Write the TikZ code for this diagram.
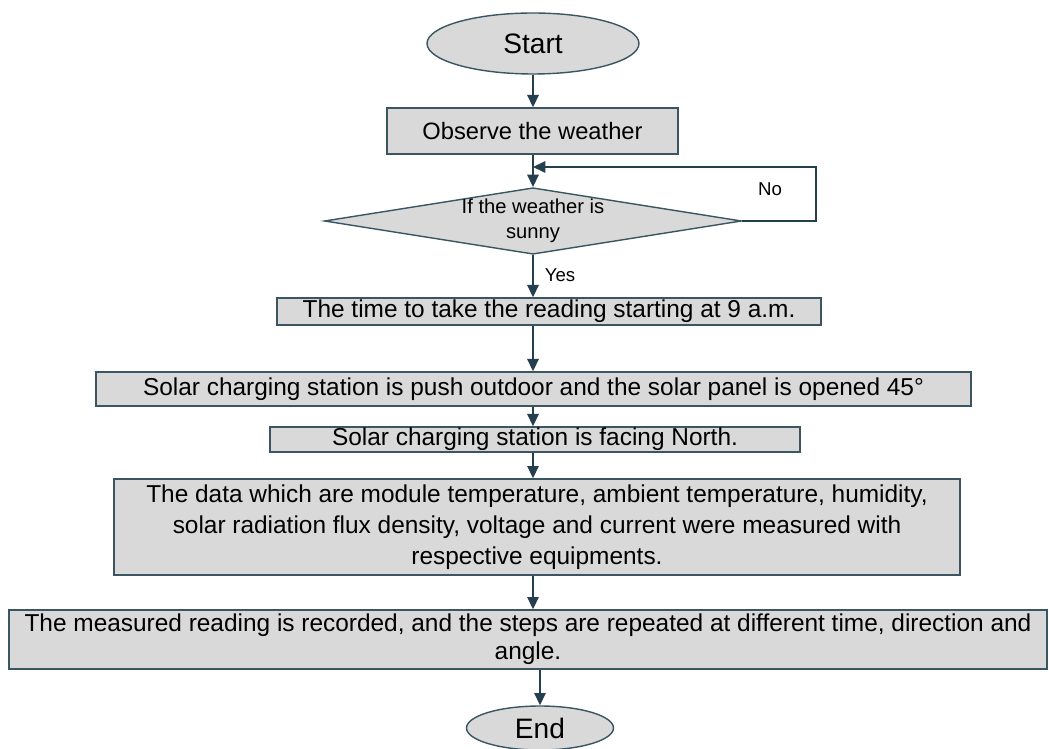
\documentclass[tikz,border=0pt]{standalone}
\usepackage{fontspec}
\setmainfont{Liberation Sans}
\usepackage{tikz}
\usetikzlibrary{positioning,shapes.geometric,arrows.meta}
\usepackage{xcolor}
\definecolor{boxgray}{HTML}{D9D9D9}
\definecolor{lineblue}{HTML}{3B5563}
\definecolor{arrowblue}{HTML}{24404E}

\begin{document}
\begin{tikzpicture}[x=0.02cm, y=-0.02cm,
  term/.style={draw=lineblue, fill=boxgray, ellipse, line width=0.8pt, inner sep=0pt, font=\fontsize{16pt}{19pt}\selectfont},
  stepbox/.style={draw=lineblue, fill=boxgray, rectangle, line width=0.8pt, inner sep=0pt, align=center, font=\fontsize{13.9pt}{16.5pt}\selectfont},
  test/.style={draw=lineblue, fill=boxgray, diamond, aspect=6.27, line width=0.8pt, inner sep=0pt, align=center, font=\fontsize{11.5pt}{14.2pt}\selectfont},
  flow/.style={-{Triangle[length=7pt,width=6.5pt]}, draw=arrowblue, line width=0.8pt},
  lbl/.style={font=\fontsize{10.6pt}{12pt}\selectfont, inner sep=0pt}]

\useasboundingbox (0,0) rectangle (1049,749);

\node[term, minimum width=4.24cm, minimum height=1.22cm] (start) at (533,43.5) {Start};
\node[stepbox, minimum width=5.82cm, minimum height=0.92cm, font=\fontsize{13.5pt}{16pt}\selectfont] (obs) at (532.5,131) {Observe the weather};
\node[test, minimum width=8.28cm, minimum height=1.32cm] (sunny) at (533,221) {If the weather is\\sunny};
\node[stepbox, minimum width=10.88cm, minimum height=0.54cm] (time) at (549,311.5) {The time to take the reading starting at 9 a.m.};
\node[stepbox, minimum width=17.5cm, minimum height=0.68cm] (push) at (533.5,389) {Solar charging station is push outdoor and the solar panel is opened 45°};
\node[stepbox, minimum width=10.6cm, minimum height=0.5cm] (north) at (535,439.5) {Solar charging station is facing North.};
\node[stepbox, minimum width=16.92cm, minimum height=1.92cm, font=\fontsize{13.9pt}{17.6pt}\selectfont] (data) at (537,527) {The data which are module temperature, ambient temperature, humidity,\\solar radiation flux density, voltage and current were measured with\\respective equipments.};
\node[stepbox, minimum width=20.76cm, minimum height=1.18cm, font=\fontsize{13.9pt}{16pt}\selectfont] (rec) at (528,639.5) {The measured reading is recorded, and the steps are repeated at different time, direction and\\angle.};
\node[term, minimum width=2.94cm, minimum height=0.88cm] (end) at (540,728) {End};

\node[lbl] (yes) at (560,275) {Yes};
\node[lbl] (no) at (770,189) {No};
\coordinate (back) at (816,167);

% main flow
\draw[flow] (start) -- (obs.north -| start);
\draw[flow] (obs.south -| start) -- (sunny.north -| start);
\draw[flow] (sunny.south -| start) -- (time.north -| start);
\draw[flow] (time.south -| start) -- (push.north -| start);
\draw[flow] (push.south -| start) -- (north.north -| start);
\draw[flow] (north.south -| start) -- (data.north -| start);
\draw[flow] (data.south -| start) -- (rec.north -| start);
\draw[flow] (rec.south -| end) -- (end);

% not sunny: go back
\draw[flow] (sunny.east) -| (back) -- (back -| start);

\end{tikzpicture}
\end{document}
